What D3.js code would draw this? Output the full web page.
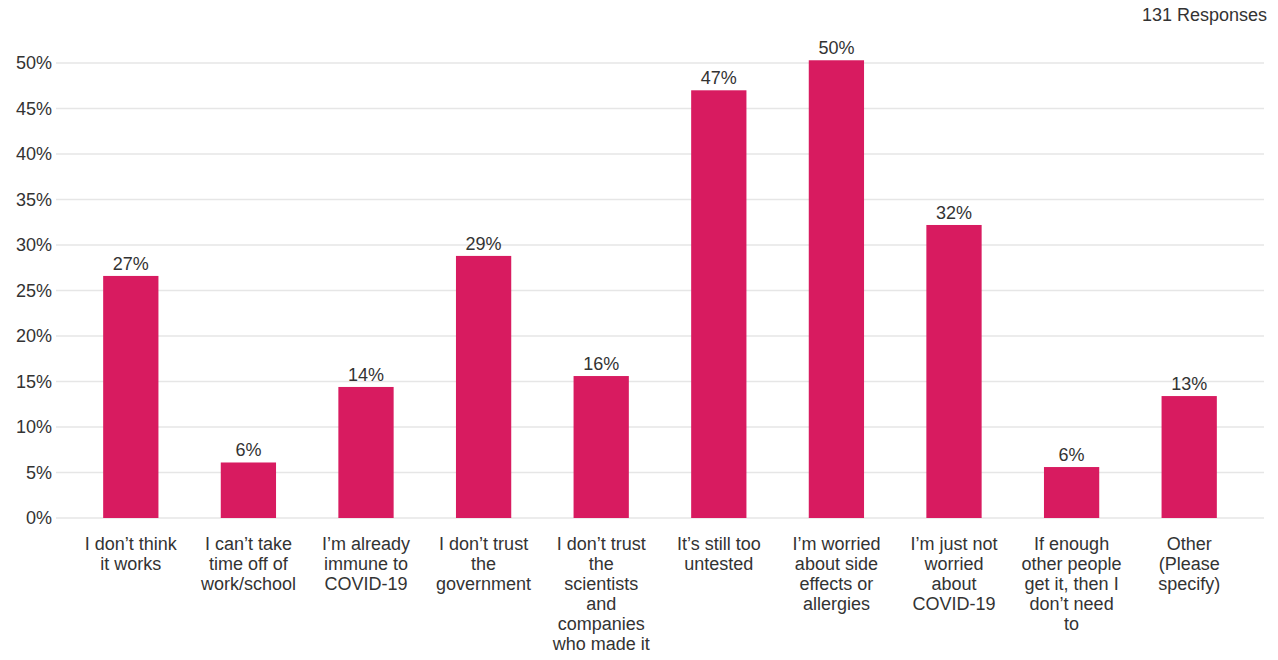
<!DOCTYPE html>
<html><head><meta charset="utf-8">
<script src="https://cdn.jsdelivr.net/npm/d3@7"></script>
<style>body{margin:0;background:#fff}svg{display:block}text{font-family:"Liberation Sans",Arial,sans-serif;fill:#333}</style>
</head><body><svg id="c" width="1278" height="660"></svg>
<script>
const categories = [
  ["I don’t think","it works"],
  ["I can’t take","time off of","work/school"],
  ["I’m already","immune to","COVID-19"],
  ["I don’t trust","the","government"],
  ["I don’t trust","the","scientists","and","companies","who made it"],
  ["It’s still too","untested"],
  ["I’m worried","about side","effects or","allergies"],
  ["I’m just not","worried","about","COVID-19"],
  ["If enough","other people","get it, then I","don’t need","to"],
  ["Other","(Please","specify)"]
];
const values = [26.6, 6.1, 14.4, 28.8, 15.6, 47.0, 50.3, 32.2, 5.6, 13.4];
const yTicks = [0,5,10,15,20,25,30,35,40,45,50];
const responses = "131 Responses";

const svg = d3.select("#c");
const x = d3.scaleBand().domain(d3.range(values.length)).range([72,1248]).paddingInner(0.53).paddingOuter(0.265);
const y = d3.scaleLinear().domain([0,50]).range([518,63]);

svg.append("g").selectAll("line").data(yTicks).join("line")
  .attr("x1",56).attr("x2",1264).attr("y1",d=>y(d)).attr("y2",d=>y(d))
  .attr("stroke","#e6e6e6").attr("stroke-width",1.5);

const yAxis = d3.axisLeft(y).tickValues(yTicks).tickFormat(d=>d+"%").tickSize(0).tickPadding(0);
const ga = svg.append("g").attr("transform","translate(52,0)").call(yAxis);
ga.select(".domain").remove();
ga.selectAll("text").attr("font-size",18).attr("font-family","Liberation Sans, Arial, sans-serif").attr("fill","#333");

svg.append("g").selectAll("rect").data(values).join("rect")
  .attr("x",(d,i)=>x(i)).attr("width",x.bandwidth())
  .attr("y",d=>y(d)).attr("height",d=>y(0)-y(d)).attr("fill","#d81b60");

svg.append("g").selectAll("text").data(values).join("text")
  .attr("x",(d,i)=>x(i)+x.bandwidth()/2).attr("y",d=>y(d)-6)
  .attr("text-anchor","middle").attr("font-size",18).text(d=>Math.round(d)+"%");

const lab = svg.append("g").selectAll("text").data(categories).join("text")
  .attr("text-anchor","middle").attr("font-size",18)
  .attr("transform",(d,i)=>`translate(${x(i)+x.bandwidth()/2},550)`);
lab.selectAll("tspan").data(d=>d).join("tspan").attr("x",0).attr("dy",(d,j)=>j===0?0:20).text(d=>d);

svg.append("text").attr("x",1267).attr("y",21).attr("text-anchor","end").attr("font-size",18).text(responses);
</script></body></html>
